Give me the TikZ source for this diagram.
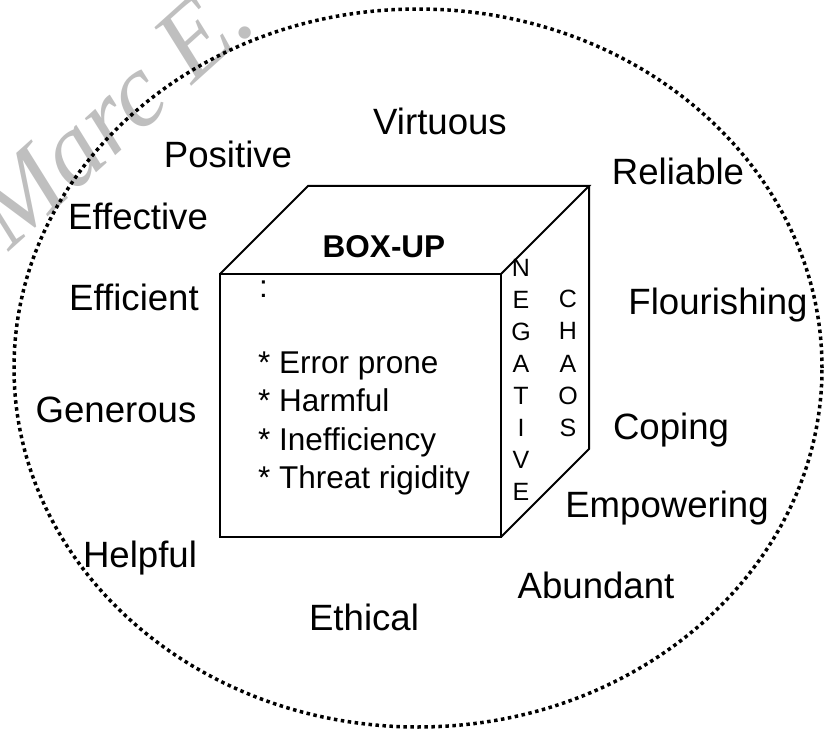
\documentclass[tikz,border=0pt]{standalone}
\usepackage{fontspec}
\setmainfont{Liberation Sans}
\newfontfamily\markfont{Liberation Serif}

\begin{document}
\begin{tikzpicture}[x=1pt,y=-1pt,
	word/.style={anchor=base,inner sep=0pt,font=\fontsize{36.6}{44}\selectfont},
	item/.style={anchor=base west,inner sep=0pt,font=\fontsize{31.5}{38}\selectfont},
	letter/.style={anchor=base,inner sep=0pt,font=\fontsize{25}{30}\selectfont},
	edge/.style={line width=2pt,line join=miter}]
	\useasboundingbox (0,0) rectangle (836,730);
	
	\node[rotate=42,text=gray!50,font=\markfont\itshape\fontsize{104}{110}\selectfont] (mark) at (112,114) {Marc E.};
	\draw[line width=3.5pt,dash pattern=on 3.5pt off 3.5pt] (418,368) ellipse (404pt and 359pt);
	
	% the box
	\coordinate (fa) at (220,274); \coordinate (fb) at (501,274); \coordinate (fc) at (501,537); \coordinate (fd) at (220,537);
	\coordinate (ba) at (308,186); \coordinate (bb) at (589,186); \coordinate (bc) at (589,449);
	\draw[edge] (fa) -- (fb) -- (fc) -- (fd) -- cycle;
	\draw[edge] (fa) -- (ba) -- (bb) -- (fb);
	\draw[edge] (bb) -- (bc) -- (fc);
	
	\node[anchor=base,inner sep=0pt,font=\bfseries\fontsize{31.5}{38}\selectfont] (boxup) at (384,258) {BOX-UP};
	\node[item] (colon) at (259,298) {:};
	\foreach \t [count=\i from 0] in {Error prone,Harmful,Inefficiency,Threat rigidity}
		\node[item] (item\i) at (258,{373+38.5*\i}) {* \t};
	\foreach \c [count=\i from 0] in {N,E,G,A,T,I,V,E}
		\node[letter] (neg\i) at (521,{277+31.9*\i}) {\c};
	\foreach \c [count=\i from 0] in {C,H,A,O,S}
		\node[letter] (chaos\i) at (568,{308+32*\i}) {\c};
	
	% words round the box
	\foreach \w/\x/\y in {Virtuous/440/135,Positive/228/168,Reliable/678/185,Effective/138/230,
		Efficient/134/311,Flourishing/718/315,Generous/116/422,Coping/671/439,
		Empowering/667/517,Helpful/140/567,Abundant/596/598,Ethical/364/630}
		\node[word] (\w) at (\x,\y) {\w};
\end{tikzpicture}
\end{document}
